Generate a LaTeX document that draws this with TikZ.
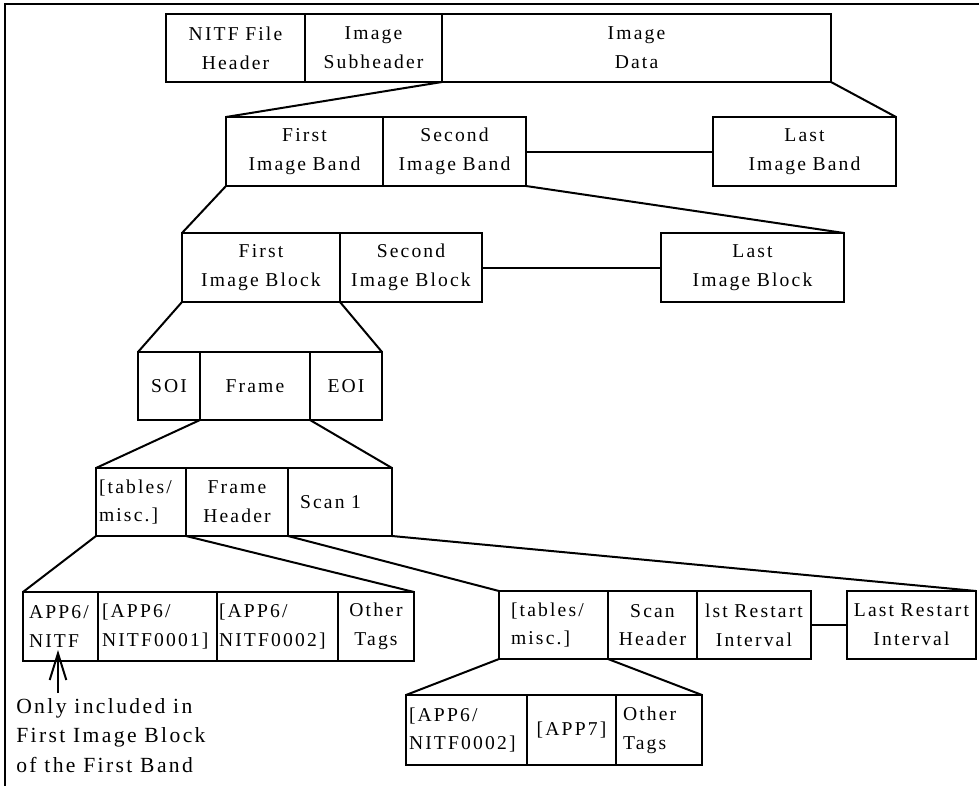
\documentclass[tikz,border=0pt]{standalone}
\usepackage{fontspec}
\setmainfont{Liberation Serif}[LetterSpace=11]
\usetikzlibrary{arrows.meta}
\lefthyphenmin=100
\newcommand\boxfont{\fontsize{14.7pt}{21.5pt}\selectfont}
\newcommand\notefont{\fontsize{16.2pt}{22.1pt}\selectfont}
% \fcell{name}{x1}{y1}{x2}{y2}{padding}{alignment}{text}, coordinates in px
\newcommand\fcell[8]{%
  \pgfmathsetmacro\cellw{(#4-#2-2*#6)*0.75}%
  \pgfmathsetmacro\cellh{(#5-#3)*0.75}%
  \pgfmathsetmacro\cellpad{#6*0.75}%
  \node[cellbox, anchor=north west, inner xsep=\cellpad pt,
        text width=\cellw pt, minimum height=\cellh pt, align=#7]
        (#1) at (#2,#3) {#8};}
\tikzset{
  cellbox/.style={draw, line width=1.5pt, inner ysep=0pt, outer sep=0pt, font=\boxfont},
  link/.style={line width=1.5pt},
  frameline/.style={line width=1.7pt},
}
\begin{document}
\begin{tikzpicture}[x=0.75pt, y=-0.75pt]
\useasboundingbox (0,0) rectangle (979,786);
\draw[frameline] (5,786) -- (5,4) -- (979,4);

% NITF file
\fcell{filehdr}{166}{14}{305}{82}{4}{center}{NITF~File\\Header}
\fcell{imgsub}{305}{14}{442}{82}{4}{center}{Image\\Subheader}
\fcell{imgdata}{442}{14}{831}{82}{4}{center}{Image\\Data}

% image bands
\fcell{band1}{226}{117}{383}{186}{4}{center}{First\\Image~Band}
\fcell{band2}{383}{117}{526}{186}{4}{center}{Second\\Image~Band}
\fcell{bandN}{713}{117}{896}{186}{4}{center}{Last\\Image~Band}

% image blocks
\fcell{blk1}{182}{233}{340}{302}{4}{center}{First\\Image~Block}
\fcell{blk2}{340}{233}{482}{302}{4}{center}{Second\\Image~Block}
\fcell{blkN}{661}{233}{844}{302}{4}{center}{Last\\Image~Block}

% JPEG stream
\fcell{soi}{138}{352}{200}{420}{2}{center}{SOI}
\fcell{frame}{200}{352}{310}{420}{2}{center}{Frame}
\fcell{eoi}{310}{352}{382}{420}{2}{center}{EOI}

% frame
\fcell{ftab}{96}{468}{186}{536}{3}{left}{[tables/\\misc.]}
\fcell{fhead}{186}{468}{288}{536}{3}{center}{Frame\\Header}
\fcell{scan}{288}{468}{392}{536}{12}{left}{Scan~1}

% frame tables
\fcell{app6}{23}{592}{98}{661}{6}{left}{APP6/\\NITF}
\fcell{nitfA}{98}{592}{217}{661}{4}{left}{[APP6/\\NITF0001]}
\fcell{nitfB}{217}{592}{338}{661}{2}{left}{[APP6/\\NITF0002]}
\fcell{othA}{338}{592}{414}{661}{3}{center}{Other\\Tags}

% scan
\fcell{stab}{499}{591}{608}{659}{12}{left}{[tables/\\misc.]}
\fcell{shead}{608}{591}{697}{659}{2}{center}{Scan\\Header}
\fcell{rst1}{697}{591}{811}{659}{2}{center}{lst~Restart\\Interval}
\fcell{rstN}{847}{591}{976}{659}{2}{center}{Last~Restart\\Interval}

% scan tables
\fcell{nitfC}{406}{695}{527}{765}{3}{left}{[APP6/\\NITF0002]}
\fcell{app7}{527}{695}{616}{765}{3}{center}{[APP7]}
\fcell{othB}{616}{695}{702}{765}{7}{left}{Other\\Tags}

% expansion lines
\draw[link] (imgsub.south east) -- (band1.north west);
\draw[link] (imgdata.south east) -- (bandN.north east);
\draw[link] (band2.east) -- (bandN.west);
\draw[link] (band1.south west) -- (blk1.north west);
\draw[link] (band2.south east) -- (blkN.north east);
\draw[link] (blk2.east) -- (blkN.west);
\draw[link] (blk1.south west) -- (soi.north west);
\draw[link] (blk1.south east) -- (eoi.north east);
\draw[link] (frame.south west) -- (ftab.north west);
\draw[link] (frame.south east) -- (scan.north east);
\draw[link] (ftab.south west) -- (app6.north west);
\draw[link] (ftab.south east) -- (othA.north east);
\draw[link] (scan.south west) -- (stab.north west);
\draw[link] (scan.south east) -- (rstN.north east);
\draw[link] (rst1.east) -- (rstN.west);
\draw[link] (stab.south west) -- (nitfC.north west);
\draw[link] (stab.south east) -- (othB.north east);

% note on the APP6/NITF segment
\node[anchor=north west, inner sep=0pt, align=left, font=\notefont] (note) at (16,698)
  {Only included in\\First Image Block\\of the First Band};
\coordinate (notetail) at (58,693);
\coordinate (notetip) at (58,650);
\draw[link, -{Straight Barb[length=20pt, width=12.5pt, line width=1.5pt]}] (notetail) -- (notetip);
\end{tikzpicture}
\end{document}
